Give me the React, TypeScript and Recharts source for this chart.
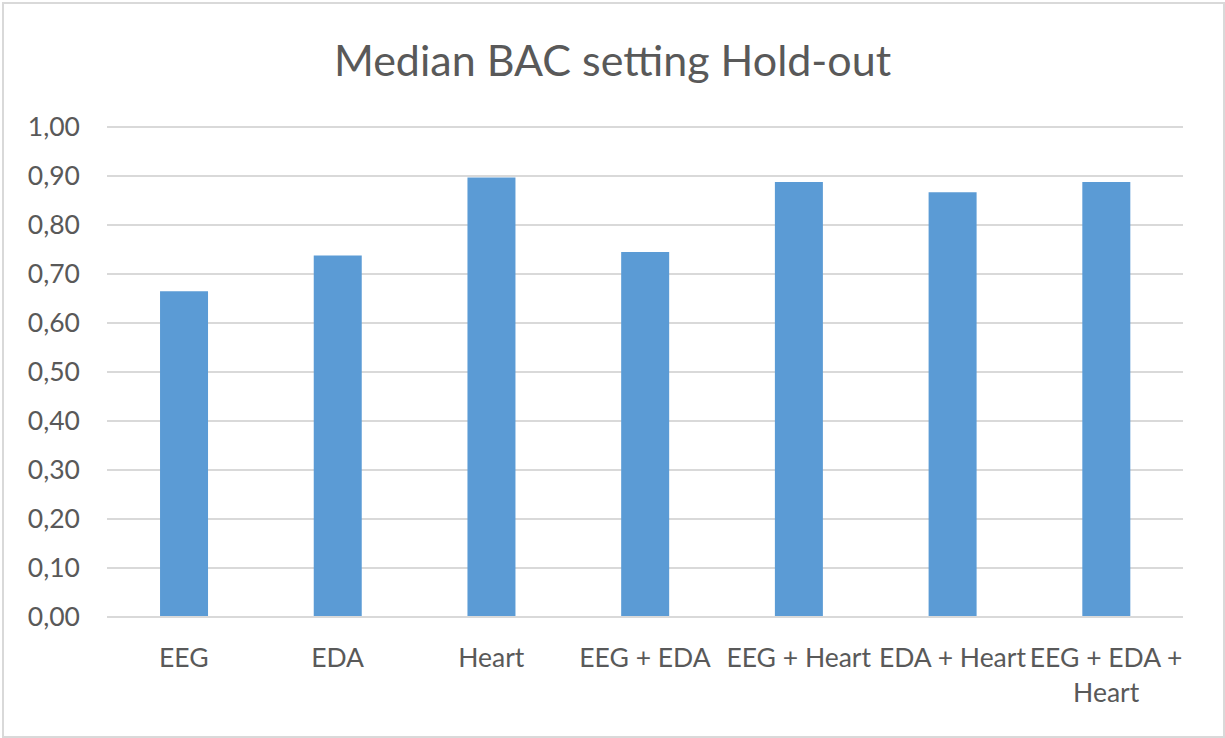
import React from 'react';
import { BarChart, Bar, XAxis, YAxis, CartesianGrid } from 'recharts';

const categories = ['EEG', 'EDA', 'Heart', 'EEG + EDA', 'EEG + Heart', 'EDA + Heart', 'EEG + EDA + Heart'];
const bacValues = [0.665, 0.738, 0.897, 0.745, 0.888, 0.867, 0.888];
const yTicks = [0, 0.1, 0.2, 0.3, 0.4, 0.5, 0.6, 0.7, 0.8, 0.9, 1.0];
const categoryLines: Record<string, string[]> = {
  'EEG + EDA + Heart': ['EEG + EDA +', 'Heart'],
};

const data = categories.map((c, i) => ({ name: c, value: bacValues[i] }));

const FONT = 'Lato, "Open Sans", sans-serif';
const TEXT = '#595959';
const GRID = '#d9d9d9';

const XTick = (props: any) => {
  const { x, y, payload } = props;
  const lines = categoryLines[payload.value] || [payload.value];
  return (
    <g>
      {lines.map((l, i) => (
        <text key={i} x={x} y={y + 42 + i * 35} textAnchor="middle" fill={TEXT} fontSize={26.5} fontFamily={FONT}>
          {l}
        </text>
      ))}
    </g>
  );
};

const YTick = (props: any) => {
  const { y, payload } = props;
  return (
    <text x={80} y={y + 9} textAnchor="end" fill={TEXT} fontSize={26.5} fontFamily={FONT}>
      {payload.value.toFixed(2).replace('.', ',')}
    </text>
  );
};

export default function App() {
  return (
    <div style={{ position: 'absolute', left: 0, top: 0, width: 1225, height: 738, background: '#fff' }}>
      <div
        style={{
          position: 'absolute', left: 2, top: 2, width: 1219, height: 732,
          border: '2px solid #d9d9d9', boxSizing: 'content-box',
        }}
      />
      <div
        style={{
          position: 'absolute', left: 0, top: 34, width: 1225, textAlign: 'center',
          fontFamily: FONT, fontSize: 43, color: TEXT,
        }}
      >
        Median BAC setting Hold-out
      </div>
      <BarChart
        width={1225}
        height={738}
        data={data}
        margin={{ top: 127, right: 42, bottom: 0, left: 27 }}
        barCategoryGap="34.5%"
        style={{ position: 'absolute', left: 0, top: 0 }}
      >
        <CartesianGrid vertical={false} stroke={GRID} strokeWidth={2} />
        <XAxis
          dataKey="name"
          height={121}
          interval={0}
          tickLine={false}
          axisLine={{ stroke: GRID, strokeWidth: 2 }}
          tick={<XTick />}
        />
        <YAxis
          width={80}
          domain={[0, 1]}
          ticks={yTicks}
          axisLine={false}
          tickLine={false}
          tick={<YTick />}
        />
        <Bar dataKey="value" fill="#5B9BD5" isAnimationActive={false} />
      </BarChart>
    </div>
  );
}
